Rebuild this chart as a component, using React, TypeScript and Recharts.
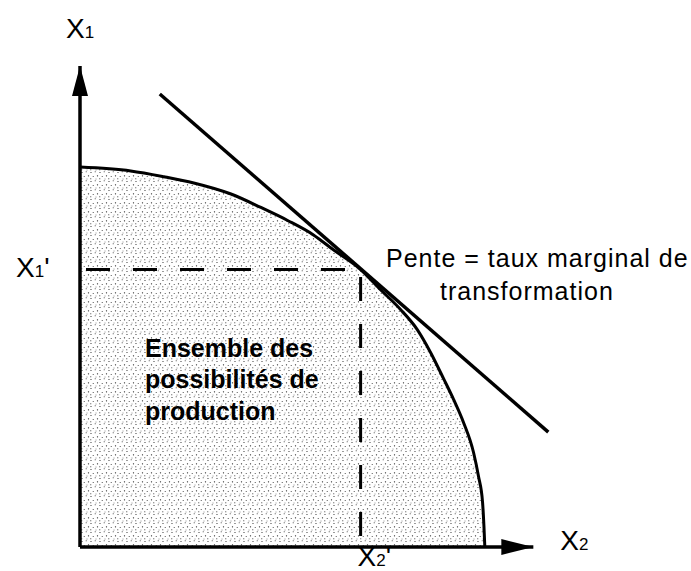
import { ComposedChart, XAxis, YAxis, Area, Line, Scatter } from 'recharts';

// production possibility frontier (X2 horizontal, X1 vertical)
const frontierX2 = [0, 11.2, 18.5, 25.1, 33.3, 39.9, 45.8, 51.5, 55.9, 61.9, 66.3, 70.7, 74.4, 77.3, 80.2, 82.4, 84.6, 86.8, 87.9, 88.8, 89.1, 89.3];
const frontierX1 = [79.0, 78.2, 77.0, 75.7, 73.4, 70.6, 67.9, 64.9, 61.8, 57.7, 53.5, 49.4, 45.2, 40.5, 35.0, 30.7, 25.9, 19.7, 14.7, 9.3, 4.4, 0];

// tangent line (slope = marginal rate of transformation)
const tangentX2 = [17.6, 103.3];
const tangentX1 = [94.2, 23.9];

// point of tangency
const optimumX2 = 61.9;
const optimumX1 = 57.7;

// axis arrows end here
const axisEnd = 100;

const frontier = frontierX2.map((x, i) => ({ x, y: frontierX1[i] }));
const tangent = tangentX2.map((x, i) => ({ x, y: tangentX1[i] }));
const guide = [
  { x: 0, y: optimumX1 },
  { x: optimumX2, y: optimumX1 },
  { x: optimumX2, y: 0 },
];
const verticalAxis = [{ x: 0, y: 0 }, { x: 0, y: axisEnd }];
const horizontalAxis = [{ x: 0, y: 0 }, { x: axisEnd, y: 0 }];

const FONT = '"Liberation Sans", Arial, Helvetica, sans-serif';

function Sym({ x, y, sub, prime }: { x: number; y: number; sub: string; prime?: boolean }) {
  return (
    <text x={x} y={y} fontFamily={FONT} fontSize={28} fill="#000">
      X<tspan fontSize={17}>{sub}</tspan>
      {prime ? "'" : ''}
    </text>
  );
}

const upArrow = (props: any) => {
  const { cx, cy } = props;
  return (
    <g>
      <path d={`M${cx},${cy} L${cx - 8},${cy + 30} L${cx + 8},${cy + 30} Z`} fill="#000" />
      <Sym x={cx - 14} y={cy - 28} sub="1" />
    </g>
  );
};

const rightArrow = (props: any) => {
  const { cx, cy } = props;
  return (
    <g>
      <path d={`M${cx},${cy} L${cx - 32},${cy - 8} L${cx - 32},${cy + 8} Z`} fill="#000" />
      <Sym x={cx + 27} y={cy + 3} sub="2" />
    </g>
  );
};

const x2Tick = (props: any) => {
  const { x, y } = props;
  return <Sym x={x - 3} y={y + 19} sub="2" prime />;
};

const x1Tick = (props: any) => {
  const { x, y } = props;
  return <Sym x={x - 64} y={y + 7} sub="1" prime />;
};

export default function App() {
  return (
    <div style={{ position: 'absolute', left: 0, top: 0, width: 691, height: 571, background: '#fff' }}>
      <ComposedChart width={691} height={571} margin={{ top: 18, right: 67, bottom: 23, left: 79 }}>
        <defs>
          <pattern id="stipple" width="9" height="9" patternUnits="userSpaceOnUse">
            <rect width="9" height="9" fill="#fff" />
            <circle cx="1" cy="1.5" r="0.6" fill="#222" />
            <circle cx="5.2" cy="0.8" r="0.5" fill="#222" />
            <circle cx="7.5" cy="4.8" r="0.65" fill="#222" />
            <circle cx="3.2" cy="5.6" r="0.5" fill="#222" />
            <circle cx="0.8" cy="7.8" r="0.55" fill="#222" />
            <circle cx="6" cy="8" r="0.45" fill="#222" />
          </pattern>
        </defs>
        <XAxis
          type="number"
          dataKey="x"
          domain={[0, 120]}
          ticks={[optimumX2]}
          interval={0}
          tick={x2Tick}
          axisLine={false}
          tickLine={false}
          tickSize={0}
          tickMargin={0}
          height={1}
        />
        <YAxis
          type="number"
          dataKey="y"
          domain={[0, 110]}
          ticks={[optimumX1]}
          interval={0}
          tick={x1Tick}
          axisLine={false}
          tickLine={false}
          tickSize={0}
          tickMargin={0}
          width={1}
        />
        <Area
          data={frontier}
          dataKey="y"
          type="monotone"
          fill="url(#stipple)"
          fillOpacity={1}
          stroke="#000"
          strokeWidth={3}
          isAnimationActive={false}
        />
        <Line data={guide} dataKey="y" type="linear" stroke="#000" strokeWidth={3} strokeDasharray="24 23" strokeDashoffset={41} dot={false} isAnimationActive={false} />
        <Line data={tangent} dataKey="y" type="linear" stroke="#000" strokeWidth={3.5} dot={false} isAnimationActive={false} />
        <Line data={verticalAxis} dataKey="y" type="linear" stroke="#000" strokeWidth={3.5} dot={false} isAnimationActive={false} />
        <Line data={horizontalAxis} dataKey="y" type="linear" stroke="#000" strokeWidth={3.5} dot={false} isAnimationActive={false} />
        <Scatter data={[verticalAxis[1]]} dataKey="y" shape={upArrow} isAnimationActive={false} />
        <Scatter data={[horizontalAxis[1]]} dataKey="y" shape={rightArrow} isAnimationActive={false} />
      </ComposedChart>
      {/* annotations on top of the shaded area */}
      <svg width={691} height={571} style={{ position: 'absolute', left: 0, top: 0, pointerEvents: 'none' }}>
        <text fontFamily={FONT} fontSize={25} fontWeight="bold" fill="#000">
          <tspan x={145} y={357}>Ensemble des</tspan>
          <tspan x={145} y={388}>possibilités de</tspan>
          <tspan x={145} y={420}>production</tspan>
        </text>
        <text fontFamily={FONT} fontSize={25} letterSpacing={1} fill="#000">
          <tspan x={386} y={267}>Pente = taux marginal de</tspan>
          <tspan x={440} y={300}>transformation</tspan>
        </text>
      </svg>
    </div>
  );
}
